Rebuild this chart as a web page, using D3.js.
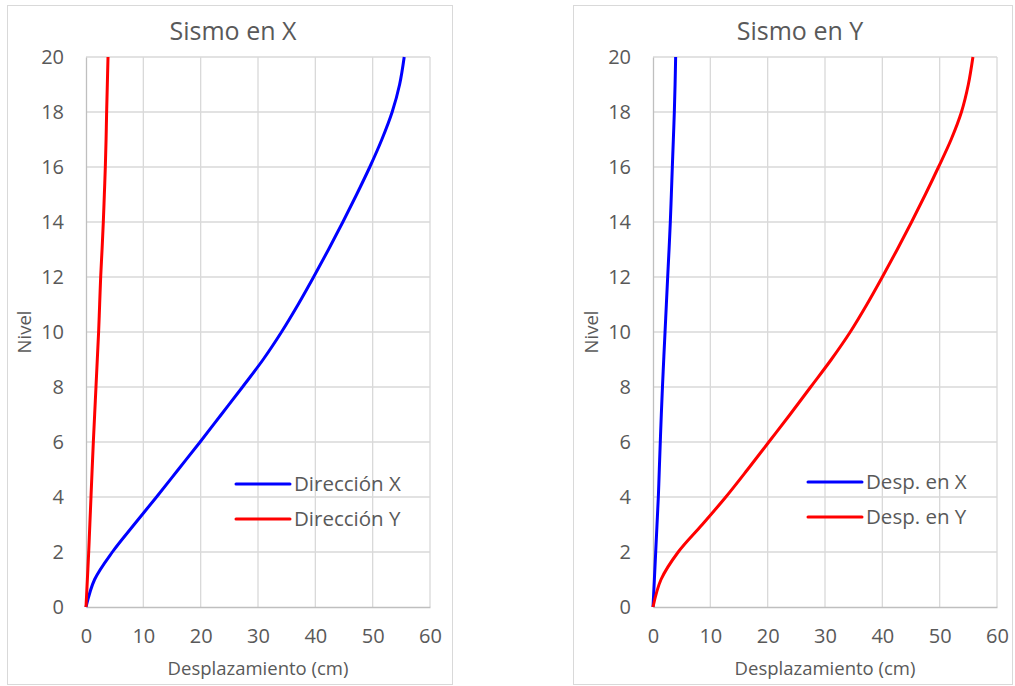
<!DOCTYPE html>
<html>
<head>
<meta charset="utf-8">
<script src="https://cdn.jsdelivr.net/npm/d3@7"></script>
<style>
  body { margin: 0; background: #fff; }
  svg { display: block; font-family: "Open Sans", sans-serif; }
</style>
</head>
<body>
<svg id="chart" width="1015" height="686"></svg>
<script>
// levels (Nivel) shared by all series
const levels = [0, 1, 2, 3, 4, 5, 6, 7, 8, 9, 10, 11, 12, 13, 14, 15, 16, 17, 18, 19, 20];

// Sismo en X
const sxDirX = [0, 1.5, 4.6, 8.4, 12.3, 16.1, 19.9, 23.6, 27.3, 30.9, 34.1, 37.0, 39.7, 42.3, 44.8, 47.2, 49.5, 51.6, 53.4, 54.7, 55.5];
const sxDirY = [0, 0.24, 0.47, 0.67, 0.87, 1.07, 1.28, 1.51, 1.74, 1.97, 2.2, 2.38, 2.56, 2.8, 3.02, 3.2, 3.37, 3.5, 3.6, 3.72, 3.84];

// Sismo en Y
const syDespX = [0, 0.24, 0.47, 0.7, 0.93, 1.1, 1.27, 1.45, 1.65, 1.87, 2.1, 2.33, 2.56, 2.8, 3.02, 3.2, 3.37, 3.55, 3.72, 3.85, 3.95];
const syDespY = [0, 1.4, 4.4, 8.6, 12.7, 16.5, 20.2, 23.9, 27.5, 31.1, 34.4, 37.3, 40.0, 42.6, 45.1, 47.5, 49.8, 52.0, 53.8, 55.0, 55.8];

const xTicks = [0, 10, 20, 30, 40, 50, 60];
const yTicks = [0, 2, 4, 6, 8, 10, 12, 14, 16, 18, 20];

const textColor = '#595959';
const gridColor = '#d9d9d9';

const svg = d3.select('#chart');

function drawChart(opts) {
    const g = svg.append('g').attr('transform', `translate(${opts.left},${opts.top})`);

    // chart frame
    g.append('rect')
        .attr('x', 0.5).attr('y', 0.5)
        .attr('width', opts.width - 1).attr('height', opts.height - 1)
        .attr('fill', '#fff')
        .attr('stroke', gridColor);

    const plot = { x: opts.plotX, y: 52, w: 344, h: 550 };

    const x = d3.scaleLinear().domain([0, 60]).range([0, plot.w]);
    const y = d3.scaleLinear().domain([0, 20]).range([plot.h, 0]);

    const p = g.append('g').attr('transform', `translate(${plot.x},${plot.y})`);

    // grid
    p.append('g')
        .selectAll('line')
        .data(xTicks.slice(1))
        .enter().append('line')
        .attr('x1', d => x(d)).attr('x2', d => x(d))
        .attr('y1', 0).attr('y2', plot.h)
        .attr('stroke', gridColor).attr('stroke-width', 1.3);
    p.append('g')
        .selectAll('line')
        .data(yTicks.slice(1))
        .enter().append('line')
        .attr('x1', 0).attr('x2', plot.w)
        .attr('y1', d => y(d)).attr('y2', d => y(d))
        .attr('stroke', gridColor).attr('stroke-width', 1.3);

    // axes
    const xAxis = p.append('g')
        .attr('transform', `translate(0,${plot.h})`)
        .call(d3.axisBottom(x).tickValues(xTicks).tickSize(0).tickPadding(22));
    const yAxis = p.append('g')
        .call(d3.axisLeft(y).tickValues(yTicks).tickSize(0).tickPadding(22));
    [xAxis, yAxis].forEach(a => {
        a.select('.domain').attr('stroke', '#bfbfbf').attr('stroke-width', 1.3);
        a.selectAll('text')
            .attr('fill', textColor)
            .style('font-size', '20px')
            .style('font-family', '"Open Sans", sans-serif');
    });

    // series
    const line = d3.line()
        .x(d => x(d[0]))
        .y(d => y(d[1]))
        .curve(d3.curveCatmullRom.alpha(0.5));

    opts.series.forEach(s => {
        const pts = s.values.map((v, i) => [v, levels[i]]);
        p.append('path')
            .datum(pts)
            .attr('fill', 'none')
            .attr('stroke', s.color)
            .attr('stroke-width', 3)
            .attr('stroke-linejoin', 'round')
            .attr('d', line);
    });

    // title
    g.append('text')
        .attr('x', plot.x + plot.w / 2 - 25)
        .attr('y', 35)
        .attr('text-anchor', 'middle')
        .attr('fill', textColor)
        .style('font-size', '25px')
        .text(opts.title);

    // axis titles
    g.append('text')
        .attr('x', plot.x + plot.w / 2)
        .attr('y', 670)
        .attr('text-anchor', 'middle')
        .attr('fill', textColor)
        .style('font-size', '18.5px')
        .text('Desplazamiento (cm)');
    g.append('text')
        .attr('transform', `translate(${opts.nivelX},${plot.y + plot.h / 2}) rotate(-90)`)
        .attr('text-anchor', 'middle')
        .attr('fill', textColor)
        .style('font-size', '18.5px')
        .text('Nivel');

    // legend
    const lg = g.append('g').attr('transform', `translate(${opts.legendX},${opts.legendY})`);
    opts.series.forEach((s, i) => {
        const row = lg.append('g').attr('transform', `translate(0,${i * 35})`);
        row.append('line')
            .attr('x1', 0).attr('x2', 54)
            .attr('y1', 0).attr('y2', 0)
            .attr('stroke', s.color)
            .attr('stroke-width', 3)
            .attr('stroke-linecap', 'round');
        row.append('text')
            .attr('x', 58)
            .attr('y', 0)
            .attr('dy', '0.35em')
            .attr('fill', textColor)
            .style('font-size', '20.5px')
            .text(s.name);
    });
}

drawChart({
    left: 7, top: 5, width: 446, height: 680,
    plotX: 79, nivelX: 24,
    title: 'Sismo en X',
    legendX: 229, legendY: 479,
    series: [
        { name: 'Dirección X', values: sxDirX, color: '#0000ff' },
        { name: 'Dirección Y', values: sxDirY, color: '#ff0000' }
    ]
});

drawChart({
    left: 573, top: 5, width: 440, height: 680,
    plotX: 80, nivelX: 25,
    title: 'Sismo en Y',
    legendX: 235, legendY: 477,
    series: [
        { name: 'Desp. en X', values: syDespX, color: '#0000ff' },
        { name: 'Desp. en Y', values: syDespY, color: '#ff0000' }
    ]
});
</script>
</body>
</html>
